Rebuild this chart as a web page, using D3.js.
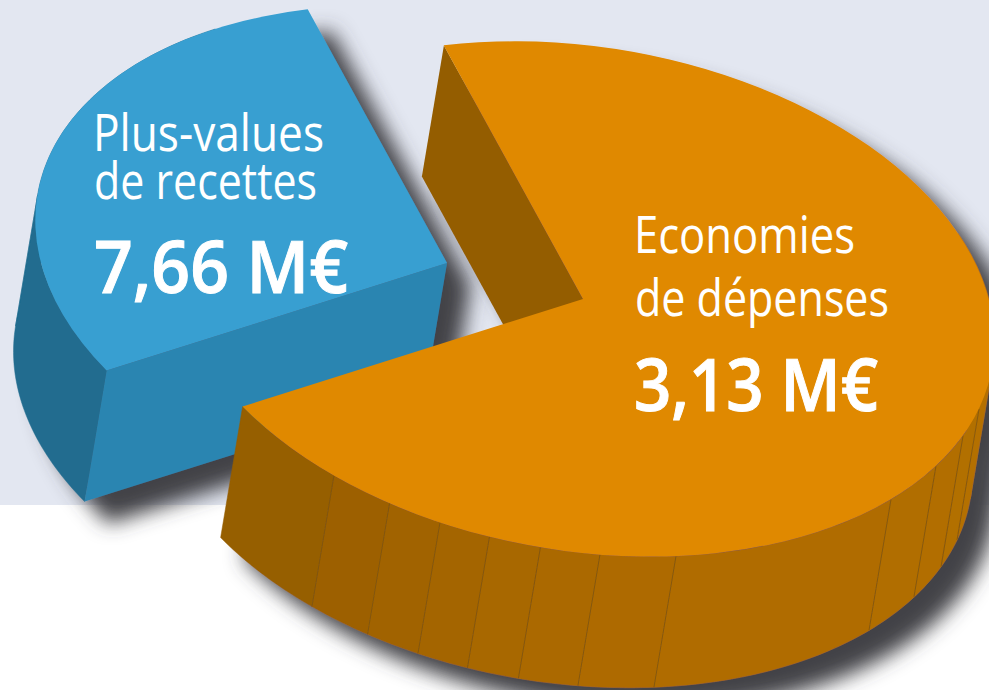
<!DOCTYPE html>
<html lang="fr">
<head>
<meta charset="utf-8">
<style>html,body{margin:0;padding:0;background:#fff;overflow:hidden}svg{display:block}</style>
<script src="https://cdn.jsdelivr.net/npm/d3@7/dist/d3.min.js"></script>
</head>
<body>
<script>
const sliceNames = ["orange", "bleu"];
const sliceValues = [7.66, 3.13];
const labelLines = [["Economies", "de dépenses"], ["Plus-values", "de recettes"]];
const labelAmounts = ["3,13 M€", "7,66 M€"];
// Angles (degrees) of the thin facet seams on the orange rim
const orangeSeams = [211.5, 202.3, 194.6, 187.4, 180.2, 171.9, 161.2, 125.8, 115.2, 106.8, 100];

const W = 989, H = 690;
const rx = 415, ry = 252, tilt = 9.4;
const cosT = Math.cos(tilt * Math.PI / 180), sinT = Math.sin(tilt * Math.PI / 180);
const rad = d => d * Math.PI / 180;

const centres = [[583, 299], [447, 263]];
const depth = [-22, 131];

const svg = d3.select("body").append("svg").attr("width", W).attr("height", H).attr("viewBox", `0 0 ${W} ${H}`);
const defs = svg.append("defs");
const f = defs.append("filter").attr("id", "sh").attr("filterUnits", "userSpaceOnUse")
  .attr("x", -100).attr("y", -100).attr("width", W + 200).attr("height", H + 200);
f.append("feDropShadow").attr("dx", 24).attr("dy", 22).attr("stdDeviation", 10)
  .attr("flood-color", "#424347").attr("flood-opacity", 1);

svg.append("rect").attr("width", W).attr("height", H).attr("fill", "#fff");
svg.append("rect").attr("width", W).attr("height", 505).attr("fill", "#e3e7f1");

const pie = d3.pie().sort(null).value(d => d).startAngle(rad(-25.5)).endAngle(rad(334.5));
const arcs = pie(sliceValues);
const arcGen = d3.arc().innerRadius(0).outerRadius(1);
const line = d3.line();

// unit-circle angle (d3 convention) to offset on the tilted ellipse
function project(a) {
  const x = rx * Math.sin(a), y = -ry * Math.cos(a);
  return [x * cosT - y * sinT, x * sinT + y * cosT];
}
const at = (c, a) => { const p = project(a); return [c[0] + p[0], c[1] + p[1]]; };
const down = p => [p[0] + depth[0], p[1] + depth[1]];

// the extruded rim: one simple polygon for each stretch between silhouette folds
function rim(g, c, a0, a1, col) {
  const n = Math.max(2, Math.ceil(Math.abs(a1 - a0) / rad(1)));
  const top = d3.range(n + 1).map(i => at(c, a0 + (a1 - a0) * i / n));
  const sign = (p, q) => Math.sign(d3.polygonArea([p, q, down(q), down(p)]));
  const runs = [];
  d3.pairs(top).forEach(([p, q]) => {
    const s = sign(p, q), last = runs[runs.length - 1];
    if (last && last.s === s) last.pts.push(q);
    else runs.push({ s, pts: [p, q] });
  });
  const d = runs.map(r => {
    const poly = r.pts.concat(r.pts.slice().reverse().map(down));
    if (r.s < 0) poly.reverse();
    return line(poly) + "Z";
  }).join("");
  g.append("path").attr("d", d).attr("fill", col).attr("stroke", col).attr("stroke-width", 0.5);
}
const wall = (c, a) => line([c, at(c, a), down(at(c, a)), down(c)]) + "Z";

// Blue slice
const blue = svg.append("g").attr("filter", "url(#sh)");
const bc = centres[1], ba = arcs[1];
rim(blue, bc, ba.startAngle, rad(320), "#216c8f");
blue.append("path").attr("d", wall(bc, ba.startAngle)).attr("fill", "#2c85b1");
blue.append("path").attr("d", arcGen(ba))
  .attr("transform", `translate(${bc}) rotate(${tilt}) scale(${rx},${ry})`).attr("fill", "#389fd1");

// Orange slice
const orange = svg.append("g").attr("filter", "url(#sh)");
const oc = centres[0], oa = arcs[0];
orange.append("path").attr("d", wall(oc, oa.startAngle)).attr("fill", "#945d02");
const rimColour = d3.scaleLinear().domain([225, 200, 170, 60]).range(["#945d02", "#a06301", "#ae6b00", "#b57100"]);
const bounds = [rad(60)].concat(orangeSeams.slice().reverse().map(rad), [oa.endAngle]);
d3.pairs(bounds).forEach(([a0, a1]) => {
  rim(orange, oc, a0, a1, rimColour((a0 + a1) / 2 * 180 / Math.PI));
});
orangeSeams.forEach(s => {
  const t = at(oc, rad(s));
  orange.append("path").attr("d", line([t, down(t)])).attr("stroke", "#7d5413").attr("stroke-width", 0.8).attr("fill", "none");
});
orange.append("path").attr("d", arcGen(oa))
  .attr("transform", `translate(${oc}) rotate(${tilt}) scale(${rx},${ry})`).attr("fill", "#e08900");

// Labels
const fam = "'Open Sans', 'Noto Sans', sans-serif";
const put = (s, x, y, size, weight, len, sw) => svg.append("text").text(s)
  .attr("x", x).attr("y", y).attr("font-family", fam).attr("font-size", size).attr("font-weight", weight)
  .attr("fill", "#fff").attr("stroke", "#fff").attr("stroke-width", sw)
  .attr("textLength", len).attr("lengthAdjust", "spacingAndGlyphs");

put(labelLines[1][0], 93, 151, 52, 400, 231, 0);
put(labelLines[1][1], 94, 199, 52, 400, 223, 0);
put(labelAmounts[1], 94, 293, 72, 600, 254, 1);
put(labelLines[0][0], 634, 253, 52, 400, 221, 0);
put(labelLines[0][1], 635, 316, 52, 400, 254, 0);
put(labelAmounts[0], 634, 411, 72, 600, 244, 1);
</script>
</body>
</html>
